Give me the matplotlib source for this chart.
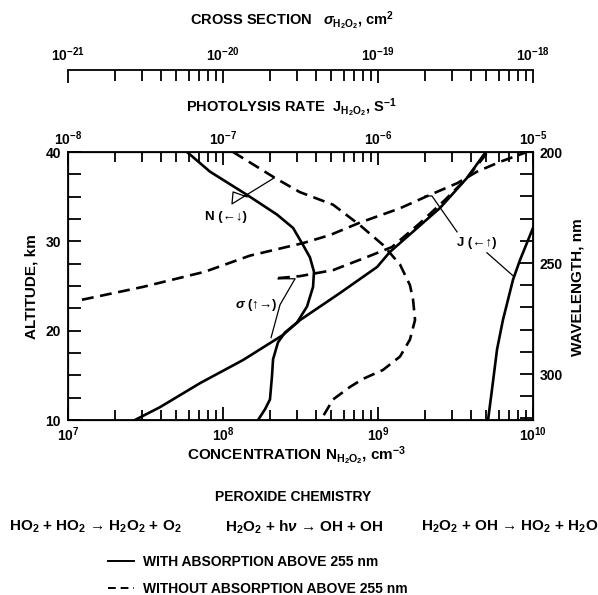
"""Peroxide chemistry: H2O2 concentration, photolysis rate and cross section."""

import matplotlib
matplotlib.use('Agg')
import matplotlib.pyplot as plt
from matplotlib.lines import Line2D
from matplotlib.ticker import LogLocator, MultipleLocator, NullFormatter, FixedLocator
import numpy as np

plt.rcParams['font.family'] = ['Liberation Sans', 'DejaVu Sans']
plt.rcParams['font.weight'] = 'bold'
plt.rcParams['mathtext.fontset'] = 'custom'
plt.rcParams['mathtext.rm'] = 'Liberation Sans:bold'
plt.rcParams['mathtext.it'] = 'Liberation Sans:italic:bold'
plt.rcParams['mathtext.bf'] = 'Liberation Sans:bold'
plt.rcParams['mathtext.sf'] = 'Liberation Sans:bold'

# concentration N(H2O2) vs altitude
n_with_alt = [40, 37.8, 35.2, 33.0, 31.5, 29.6, 28.2, 26.6, 24.9, 22.7, 20.9,
              19.8, 18.7, 16.8, 14.9, 12.3, 11.2, 10]
n_with_val = [10**7.768, 10**7.916, 10**8.155, 10**8.348, 10**8.452, 10**8.516,
              10**8.561, 10**8.587, 10**8.581, 10**8.542, 10**8.477, 10**8.40,
              10**8.355, 10**8.323, 10**8.316, 10**8.303, 10**8.271, 10**8.226]
n_without_alt = [40, 37.1, 35.5, 34.1, 31.8, 29.6, 27.4, 25.1, 23.5, 21.2, 19.0,
                 17.1, 15.6, 14.6, 13.7, 12.3, 10.4, 10]
n_without_val = [10**8.065, 10**8.335, 10**8.497, 10**8.71, 10**8.884, 10**9.032,
                 10**9.142, 10**9.206, 10**9.226, 10**9.239, 10**9.206, 10**9.142,
                 10**9.032, 10**8.903, 10**8.819, 10**8.71, 10**8.645, 10**8.626]

# photolysis rate J(H2O2) vs altitude
j_with_alt = [10, 13.35, 17.9, 21.2, 25.7, 27.9, 31.5, 35.0]
j_with_val = [10**-5.29, 10**-5.265, 10**-5.232, 10**-5.194, 10**-5.129,
              10**-5.084, 10**-5.0, 10**-4.92]
j_without_alt = [23.46, 24.9, 26.6, 28.4, 29.8, 30.7, 32.1, 33.7, 35.2, 36.5,
                 37.8, 38.9, 40]
j_without_val = [10**-7.91, 10**-7.516, 10**-7.116, 10**-6.826, 10**-6.484,
                 10**-6.31, 10**-6.116, 10**-5.858, 10**-5.665, 10**-5.49,
                 10**-5.361, 10**-5.213, 10**-5.039]

# cross section sigma(H2O2) vs wavelength
s_with_wl = [320.7, 314.9, 304.1, 293.7, 282.4, 275.7, 263.5, 251.8, 245.0,
             225.2, 211.7, 200.5]
s_with_val = [10**-20.568, 10**-20.406, 10**-20.148, 10**-19.871, 10**-19.613,
              10**-19.503, 10**-19.245, 10**-19.006, 10**-18.923, 10**-18.6,
              10**-18.426, 10**-18.31]
s_without_wl = [256.8, 255.9, 253.2, 247.3, 242.8, 232.0, 221.6, 211.7, 200.5]
s_without_val = [10**-19.645, 10**-19.503, 10**-19.29, 10**-19.071, 10**-18.91,
                 10**-18.729, 10**-18.568, 10**-18.426, 10**-18.297]

n_ticks = [1e7, 1e8, 1e9, 1e10]
j_ticks = [1e-8, 1e-7, 1e-6, 1e-5]
s_ticks = [1e-21, 1e-20, 1e-19, 1e-18]
wl_ticks = [200, 250, 300]

# leader lines in (N, altitude) units
lead_n = ([10**8.155, 10**8.065, 10**8.058, 10**8.329], [34.97, 35.53, 34.19, 37.09])
lead_j1 = ([10**9.303, 10**9.348, 10**9.51], [35.08, 35.08, 31.06])
lead_j2 = ([10**9.703, 10**9.871], [28.72, 26.15])
lead_s = ([10**8.355, 10**8.465, 10**8.368, 10**8.31], [25.81, 25.81, 22.91, 19.22])

W, H = 598, 595
fig = plt.figure(figsize=(W / 100, H / 100), dpi=100)

L, R, T, B = 68, 533, 152, 420
pos = [L / W, 1 - B / H, (R - L) / W, (B - T) / H]
ax = fig.add_axes(pos)
ax.set_xscale('log')
ax.set_xlim(1e7, 1e10)
ax.set_ylim(10, 40)

lw = 1.9
dash = (4.5, 2.5)
ax.plot(n_with_val, n_with_alt, color='black', lw=lw)
ax.plot(n_without_val, n_without_alt, color='black', lw=lw, dashes=dash)

minor_subs = np.arange(2, 10)
tick_kw = dict(direction='in', color='black', width=1.3, labelsize=10)
ax.tick_params(which='major', length=9.4, pad=5, **tick_kw)
ax.tick_params(which='minor', length=7, **tick_kw)
ax.tick_params(axis='y', which='minor', length=9.4)
ax.xaxis.set_major_locator(FixedLocator(n_ticks))
ax.xaxis.set_minor_locator(LogLocator(base=10, subs=minor_subs, numticks=10))
ax.xaxis.set_minor_formatter(NullFormatter())
ax.yaxis.set_major_locator(MultipleLocator(10))
ax.yaxis.set_minor_locator(MultipleLocator(2.5))
ax.tick_params(axis='x', pad=4)
for s in ax.spines.values():
    s.set_linewidth(1.3)

# photolysis rate (top axis)
axj = ax.twiny()
axj.set_xscale('log')
axj.set_xlim(1e-8, 1e-5)
axj.plot(j_with_val, j_with_alt, color='black', lw=lw)
axj.plot(j_without_val, j_without_alt, color='black', lw=lw, dashes=dash)
axj.tick_params(which='major', length=9.4, pad=3, **tick_kw)
axj.tick_params(which='minor', length=7, **tick_kw)
axj.xaxis.set_major_locator(FixedLocator(j_ticks))
axj.xaxis.set_minor_locator(LogLocator(base=10, subs=minor_subs, numticks=10))
axj.xaxis.set_minor_formatter(NullFormatter())

# wavelength (right axis) with cross section
axw = ax.twinx()
axw.set_ylim(320.7, 200)
axw.yaxis.set_major_locator(FixedLocator(wl_ticks))
axw.yaxis.set_minor_locator(MultipleLocator(10))
axw.tick_params(which='both', length=9.4, pad=5, **tick_kw)

axs = fig.add_axes(pos, frameon=False)
axs.set_xscale('log')
axs.set_xlim(1e-21, 1e-18)
axs.set_ylim(320.7, 200)
axs.axis('off')
axs.plot(s_with_val, s_with_wl, color='black', lw=lw)
axs.plot(s_without_val, s_without_wl, color='black', lw=lw, dashes=dash)

# leaders and curve labels
for xs, ys in (lead_n, lead_j1, lead_j2, lead_s):
    ax.plot(xs, ys, color='black', lw=0.9)
ax.text(10**8.019, 32.74, 'N (←↓)', fontsize=9.5, ha='center', va='center')
ax.text(10**9.639, 29.83, 'J (←↑)', fontsize=9.5, ha='center', va='center')
ax.text(10**8.213, 22.91, r'$\sigma$ (↑→)', fontsize=9.5, ha='center', va='center')

# cross-section scale
sp = [L / W, 1 - 82 / H, (R - L) / W, 12 / H]
axc = fig.add_axes(sp)
axc.set_xscale('log')
axc.set_xlim(1e-21, 1e-18)
axc.set_yticks([])
for k in ('left', 'right', 'bottom'):
    axc.spines[k].set_visible(False)
axc.spines['top'].set_linewidth(1.3)
axc.xaxis.tick_top()
axc.xaxis.set_major_locator(FixedLocator(s_ticks))
axc.xaxis.set_minor_locator(LogLocator(base=10, subs=minor_subs, numticks=10))
axc.xaxis.set_minor_formatter(NullFormatter())
axc.tick_params(which='major', length=9.4, pad=4, **tick_kw)
axc.tick_params(which='minor', length=8, **tick_kw)
axc.patch.set_visible(False)

# titles and axis labels
fs = 10.5
fig.text(292 / W, 1 - 21 / H, r'CROSS SECTION   $\sigma_{\mathrm{H_2O_2}}$, cm$^2$',
         fontsize=fs, ha='center', va='center')
fig.text(291 / W, 1 - 108 / H, r'PHOTOLYSIS RATE  J$_{\mathrm{H_2O_2}}$, S$^{-1}$',
         fontsize=fs, ha='center', va='center')
fig.text(297 / W, 1 - 456 / H, r'CONCENTRATION N$_{\mathrm{H_2O_2}}$, cm$^{-3}$',
         fontsize=11, ha='center', va='center')
fig.text(31 / W, 1 - 287 / H, 'ALTITUDE, km', fontsize=11, rotation=90,
         ha='center', va='center')
fig.text(578 / W, 1 - 287 / H, 'WAVELENGTH, nm', fontsize=11, rotation=90,
         ha='center', va='center')

fig.text(293 / W, 1 - 497 / H, 'PEROXIDE CHEMISTRY', fontsize=10,
         ha='center', va='center')
fig.text(95 / W, 1 - 527 / H, r'HO$_2$ + HO$_2$ → H$_2$O$_2$ + O$_2$',
         fontsize=11, ha='center', va='center')
fig.text(304 / W, 1 - 527 / H, r'H$_2$O$_2$ + h$\nu$ → OH + OH',
         fontsize=11, ha='center', va='center')
fig.text(510 / W, 1 - 527 / H, r'H$_2$O$_2$ + OH → HO$_2$ + H$_2$O',
         fontsize=11, ha='center', va='center')

handles = [Line2D([], [], color='black', lw=1.4),
           Line2D([], [], color='black', lw=1.4, dashes=(4, 2.5))]
fig.legend(handles, ['WITH ABSORPTION ABOVE 255 nm', 'WITHOUT ABSORPTION ABOVE 255 nm'],
           loc='upper left', bbox_to_anchor=(108 / W, 1 - 555 / H), frameon=False,
           fontsize=10, handlelength=1.9, handletextpad=0.6, labelspacing=0.95,
           borderpad=0, borderaxespad=0)

fig.savefig('out.png', dpi=100)
